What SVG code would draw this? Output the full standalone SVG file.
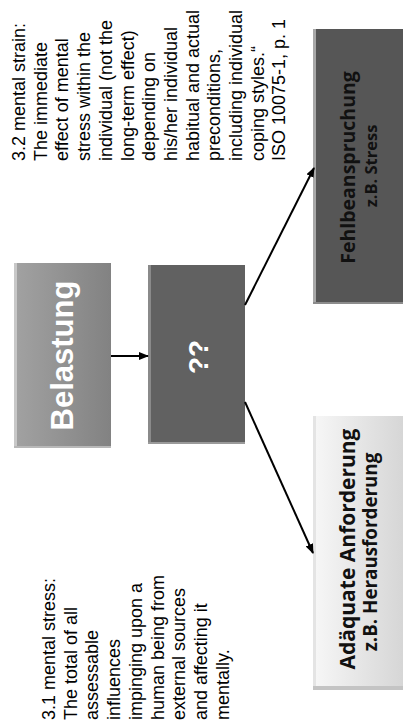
<svg xmlns="http://www.w3.org/2000/svg" width="403" height="724" viewBox="0 0 403 724">
<style>
.note{font-family:"Liberation Sans",Arial,sans-serif;font-size:18px;fill:#000}
.big{font-family:"Liberation Sans",Arial,sans-serif;font-weight:bold;fill:#fff}
.lbl{font-family:"Open Sans","Noto Sans",sans-serif;font-weight:bold;fill:#111;text-anchor:middle}
.edge{fill:none;stroke:#000;stroke-width:2}
</style>
<defs>
<linearGradient id="gBel" x1="0" y1="0" x2="1" y2="0">
<stop offset="0" stop-color="#a2a2a2"/><stop offset="1" stop-color="#828282"/>
</linearGradient>
<linearGradient id="gAd" x1="0" y1="0" x2="1" y2="0">
<stop offset="0" stop-color="#f7f7f7"/><stop offset="1" stop-color="#d6d6d6"/>
</linearGradient>
<marker id="ah" markerWidth="10" markerHeight="8" refX="9" refY="4" orient="auto" markerUnits="userSpaceOnUse">
<path d="M0,0 L10,4 L0,8 Z" fill="#000"/>
</marker>
</defs>

<g id="notes">
<g transform="translate(0,720) rotate(-90)" class="note">
<text x="0" y="55">3.1 mental stress:</text>
<text x="0" y="76.7">The total of all</text>
<text x="0" y="98.4">assessable</text>
<text x="0" y="120.1">influences</text>
<text x="0" y="141.8">impinging upon a</text>
<text x="0" y="163.5">human being from</text>
<text x="0" y="185.2">external sources</text>
<text x="0" y="206.9">and affecting it</text>
<text x="0" y="228.6">mentally.</text>
</g>
<g transform="translate(0,161) rotate(-90)" class="note">
<text x="0" y="25">3.2 mental strain:</text>
<text x="0" y="46.7">The immediate</text>
<text x="0" y="68.4">effect of mental</text>
<text x="0" y="90.1">stress within the</text>
<text x="0" y="111.8">individual (not the</text>
<text x="0" y="133.5">long-term effect)</text>
<text x="0" y="155.2">depending on</text>
<text x="0" y="176.9">his/her individual</text>
<text x="0" y="198.6">habitual and actual</text>
<text x="0" y="220.3">preconditions,</text>
<text x="0" y="242">including individual</text>
<text x="0" y="263.7">coping styles.“</text>
<text x="0" y="285.4">ISO 10075-1, p. 1</text>
</g>
</g>

<g id="belastung">
<rect x="14" y="263" width="97" height="185" fill="url(#gBel)"/>
<rect x="14" y="263" width="3" height="185" fill="#c8c8c8"/>
<rect x="14" y="446" width="97" height="2" fill="#b8b8b8"/>
<text class="big" font-size="31" text-anchor="middle" transform="translate(73,355.5) rotate(-90)">Belastung</text>
</g>

<g id="qq">
<rect x="148" y="265" width="97" height="179" fill="#616161"/>
<rect x="148" y="265" width="3" height="179" fill="#8a8a8a"/>
<rect x="148" y="442" width="97" height="2" fill="#9a9a9a"/>
<text class="big" font-size="28" text-anchor="middle" transform="translate(208,357) rotate(-90)">??</text>
</g>

<g id="fehl">
<rect x="313" y="29" width="90" height="275" fill="#565656"/>
<rect x="313" y="29" width="3" height="275" fill="#a8a8a8"/>
<rect x="313" y="302" width="90" height="2" fill="#8c8c8c"/>
<text class="lbl" font-size="19.5" transform="translate(355,167.5) rotate(-90)">Fehlbeanspruchung</text>
<text class="lbl" font-size="16.5" transform="translate(377,166) rotate(-90)">z.B. Stress</text>
</g>

<g id="adaequat">
<rect x="313" y="416" width="90" height="274" fill="url(#gAd)"/>
<rect x="313" y="416" width="3" height="274" fill="#e4e4e4"/>
<rect x="313" y="686" width="90" height="4" fill="#c4c4c4"/>
<text class="lbl" font-size="21" transform="translate(355,549) rotate(-90)">Adäquate Anforderung</text>
<text class="lbl" font-size="18.8" transform="translate(377,552) rotate(-90)">z.B. Herausforderung</text>
</g>

<g id="connectors">
<line class="edge" x1="111" y1="356" x2="148" y2="356" marker-end="url(#ah)"/>
<line class="edge" x1="245" y1="305" x2="314" y2="168" marker-end="url(#ah)"/>
<line class="edge" x1="245" y1="402" x2="313" y2="553" marker-end="url(#ah)"/>
</g>
</svg>
